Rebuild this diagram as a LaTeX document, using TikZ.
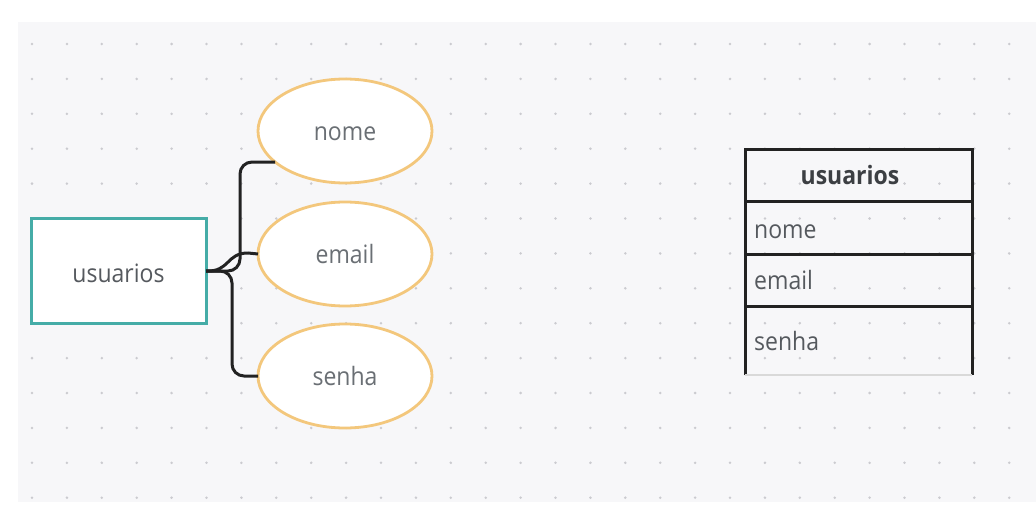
\documentclass[tikz,border=0pt]{standalone}
\usepackage{fontspec}
\usepackage{graphicx}
\setmainfont{Open Sans}
\usetikzlibrary{shapes.geometric}
\definecolor{canvas}{HTML}{F7F7F9}
\definecolor{dotc}{HTML}{CBCBD0}
\definecolor{tealc}{HTML}{45ACA7}
\definecolor{orangec}{HTML}{F3C77C}
\definecolor{txtA}{HTML}{55595E}
\definecolor{txtB}{HTML}{6A6F74}
\definecolor{txtC}{HTML}{3C3F43}
\definecolor{linec}{HTML}{222222}
\newcommand\tallt[1]{\scalebox{1}[1.1]{#1}}
\tikzset{
  entity/.style={draw=tealc, line width=3pt, fill=white, rectangle, minimum width=175pt, minimum height=105pt, inner sep=0pt, outer sep=0pt, text=txtA, font=\fontsize{23}{27}\selectfont, text height=22pt, text depth=0pt},
  attr/.style={draw=orangec, line width=2.8pt, fill=white, ellipse, minimum width=174pt, minimum height=104pt, inner sep=0pt, outer sep=0pt, text=txtB, font=\fontsize{23}{27}\selectfont, text height=19pt, text depth=0pt},
  conn/.style={draw=linec, line width=3pt, rounded corners=12pt},
  tline/.style={draw=linec, line width=3pt},
  rowtxt/.style={anchor=base west, inner sep=0pt, text=txtA, font=\fontsize{23}{27}\selectfont},
  headtxt/.style={anchor=base, inner sep=0pt, text=txtC, font=\fontsize{23}{27}\selectfont\bfseries}
}
\begin{document}
\begin{tikzpicture}[x=1pt,y=-1pt]
\useasboundingbox (0,0) rectangle (1036,522);
\fill[white] (0,0) rectangle (1036,522);
\fill[canvas] (18,22) rectangle (1036,502);
\foreach \i in {0,...,28} {
  \foreach \j in {0,...,13} {
    \fill[dotc] ({32+34.9*\i},{44+34.9*\j}) circle (1.4pt);
  }
}
% entity and attributes
\node[entity] (u) at (118.5,271) {\tallt{usuarios}};
\node[attr] (nome) at (345,131) {\tallt{nome}};
\node[attr] (email) at (345,254) {\tallt{email}};
\node[attr] (senha) at (345,376) {\tallt{senha}};
% connectors
\draw[conn] (u.east) -| (240,162) -- (nome.204);
\draw[conn, rounded corners=0pt] (u.east) .. controls (230,272) and (226,253) .. (248,253) -- (email.west);
\draw[conn] (u.east) -| (232,376) -- (senha.west);
% table
\draw[tline] (745,375) -- (745,149) -- (972,149) -- (972,375);
\draw[tline] (745,201) -- (972,201);
\draw[tline] (745,254) -- (972,254);
\draw[tline] (745,306) -- (972,306);
\draw[draw=black!15, line width=1.2pt] (745,375) -- (972,375);
\node[headtxt] (th) at (850,184) {\tallt{usuarios}};
\node[rowtxt] (tnome) at (754,238) {\tallt{nome}};
\node[rowtxt] (temail) at (754,289) {\tallt{email}};
\node[rowtxt] (tsenha) at (754,350) {\tallt{senha}};
\end{tikzpicture}
\end{document}
